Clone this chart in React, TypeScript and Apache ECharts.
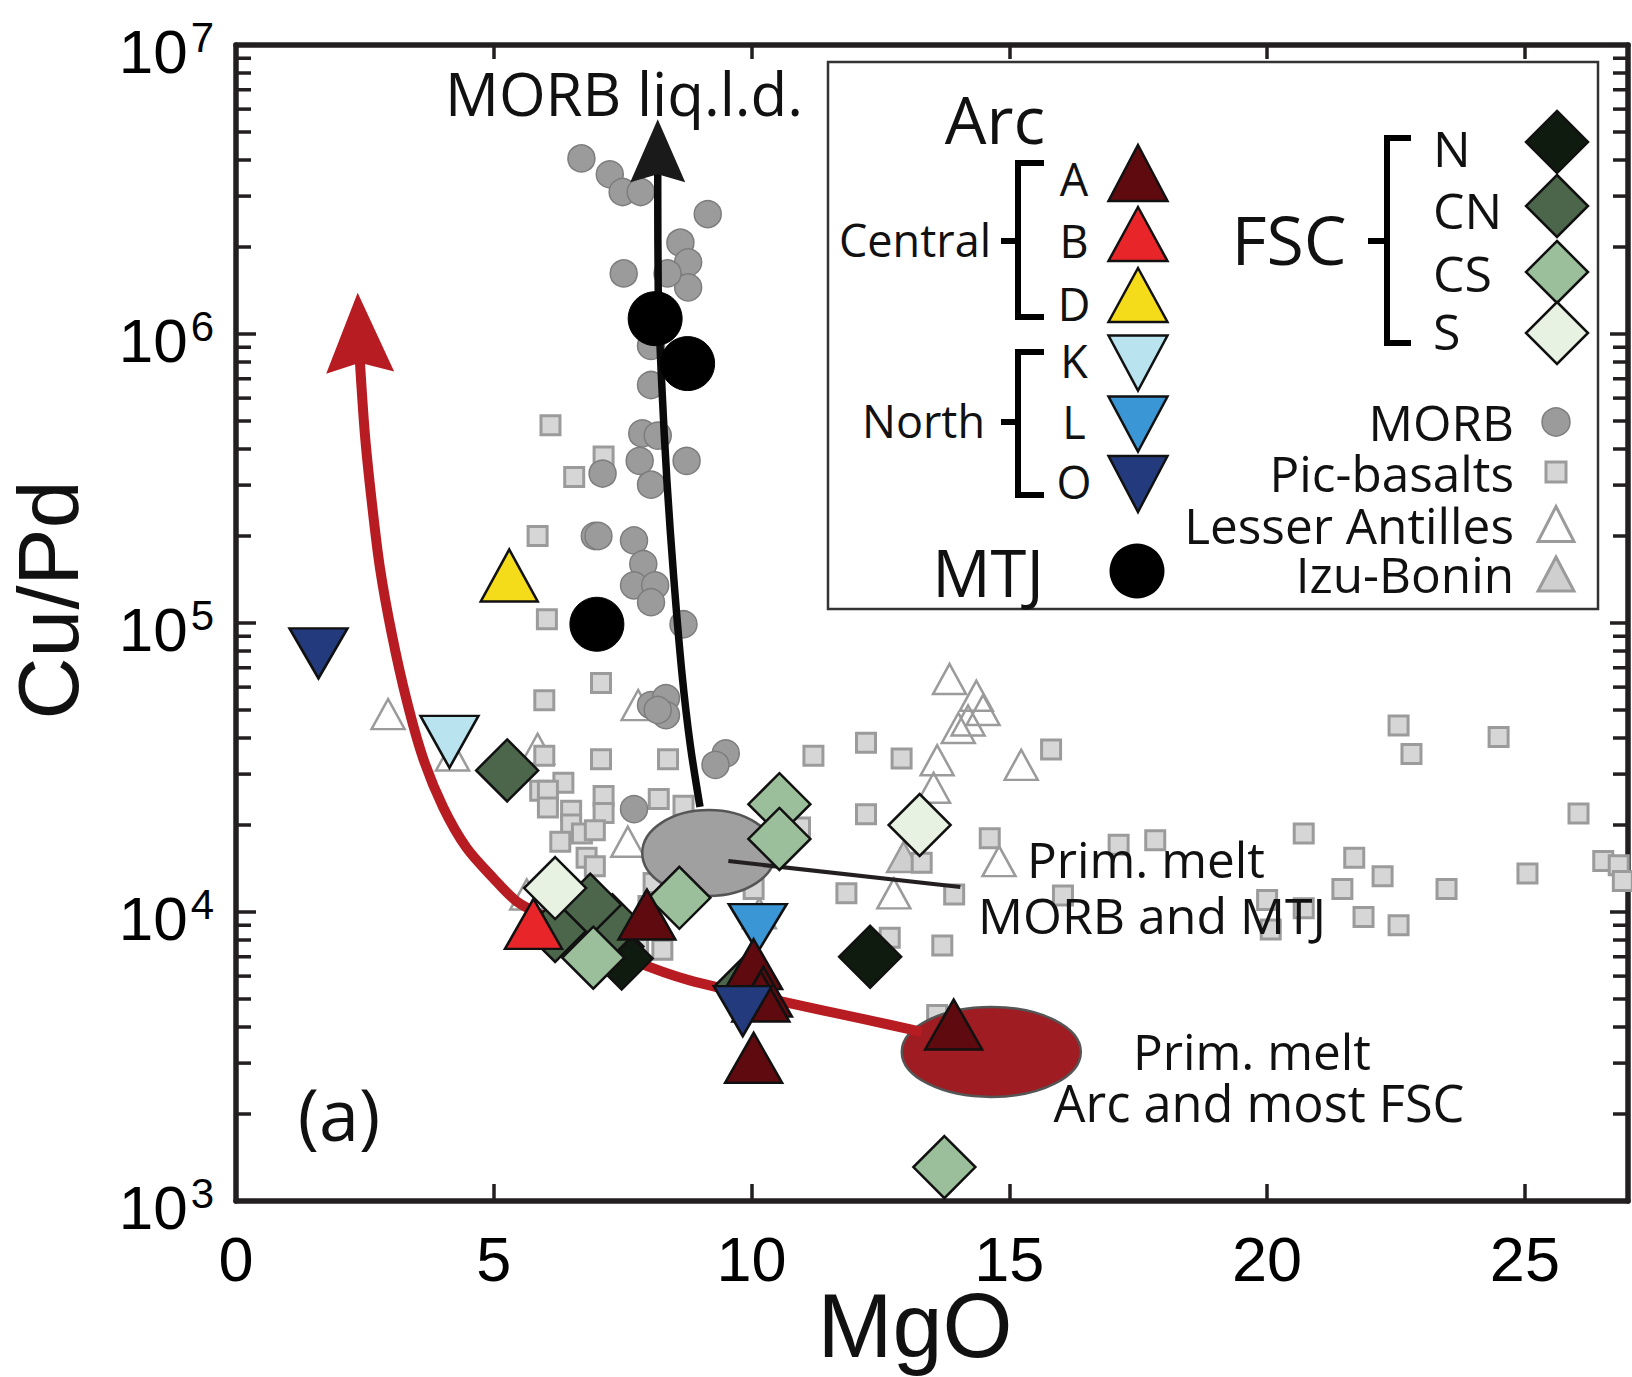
import React, { useEffect, useRef } from 'react';
import * as echarts from 'echarts';

// ---------- axis ticks ----------
const xTickStep = 5;
const xMin = 0;
const xMax = 27;
const yMin = 1e3;
const yMax = 1e7;
const minorTickMultipliers = [2, 3, 4, 5, 6, 7, 8, 9];
const minorTickDecades = [1e3, 1e4, 1e5, 1e6];

// ---------- data: [MgO, Cu/Pd] ----------
const morb: [number, number][] = [
  [6.7, 4.05e6], [7.25, 3.57e6], [7.5, 3.1e6], [7.85, 3.1e6], [9.15, 2.6e6], [8.62, 2.07e6],
  [8.77, 1.77e6], [8.77, 1.45e6], [7.52, 1.62e6], [8.37, 1.62e6], [8.05, 9.1e5], [8.05, 6.66e5],
  [7.88, 4.53e5], [8.18, 4.45e5], [7.83, 3.64e5], [8.74, 3.64e5], [8.05, 3.01e5], [7.11, 3.29e5],
  [6.96, 2.0e5], [7.03, 2.0e5], [7.72, 1.93e5], [7.9, 1.6e5], [7.72, 1.35e5], [8.13, 1.35e5],
  [8.05, 1.18e5], [8.68, 9.9e4], [8.05, 5.2e4], [8.34, 5.5e4], [8.34, 4.8e4], [8.18, 5.0e4],
  [9.5, 3.54e4], [9.3, 3.23e4], [7.72, 2.27e4],
];

const picBasalts: [number, number][] = [
  [6.1, 4.83e5], [7.13, 3.77e5], [6.56, 3.2e5], [5.85, 2.0e5], [6.03, 1.03e5],
  [7.08, 6.2e4], [5.98, 5.4e4], [5.98, 3.47e4], [7.08, 3.38e4], [8.38, 3.38e4], [6.35, 2.8e4],
  [5.9, 2.63e4], [6.05, 2.63e4], [6.05, 2.3e4], [7.13, 2.52e4], [7.13, 2.2e4], [8.2, 2.46e4],
  [8.68, 2.33e4], [6.5, 2.24e4], [6.5, 2.01e4], [6.71, 1.87e4], [6.96, 1.92e4], [6.29, 1.75e4],
  [6.8, 1.54e4], [6.96, 1.44e4], [8.1, 1.26e4], [8.27, 7.4e3], [7.8, 7.5e3], [8.0, 1.05e4],
  [10.04, 1.2e4], [10.94, 1.96e4], [11.2, 3.47e4], [12.22, 3.85e4], [12.91, 3.4e4],
  [12.22, 2.18e4], [13.3, 1.48e4], [14.62, 1.8e4], [11.84, 1.16e4], [13.93, 1.15e4],
  [12.68, 8.15e3], [13.7, 7.65e3], [13.6, 4.4e3], [15.81, 3.65e4], [16.04, 1.14e4],
  [17.12, 1.71e4], [17.83, 1.77e4], [20.71, 1.87e4], [20.0, 1.1e4], [20.71, 1.03e4],
  [20.07, 8.7e3], [21.46, 1.2e4], [21.69, 1.54e4], [22.24, 1.33e4], [21.87, 9.6e3],
  [22.55, 9.0e3], [23.48, 1.2e4], [22.55, 4.42e4], [22.8, 3.52e4], [24.49, 4.03e4],
  [26.04, 2.19e4], [25.05, 1.36e4], [26.52, 1.5e4], [26.82, 1.45e4], [26.9, 1.28e4],
];

const lesserAntilles: [number, number][] = [
  [2.95, 4.84e4], [4.2, 3.48e4], [5.85, 3.67e4], [7.6, 1.75e4], [5.64, 1.15e4], [7.8, 5.2e4],
  [13.84, 6.4e4], [14.36, 5.6e4], [14.49, 5.0e4], [14.01, 4.33e4], [14.2, 4.6e4],
  [13.6, 3.35e4], [13.53, 2.69e4], [15.23, 3.23e4], [14.8, 1.5e4], [12.76, 1.16e4],
];

const izuBonin: [number, number][] = [
  [12.95, 1.55e4], [10.15, 9.9e3],
];

const arcA: [number, number][] = [
  [7.97, 9.8e3], [10.04, 6.6e3], [10.23, 5.3e3], [10.18, 5.1e3], [10.04, 3.13e3], [13.92, 4.08e3],
];
const arcB: [number, number][] = [[5.77, 9.1e3]];
const arcD: [number, number][] = [[5.3, 1.46e5]];
const northK: [number, number][] = [[4.14, 3.88e4]];
const northL: [number, number][] = [[10.12, 8.8e3]];
const northO: [number, number][] = [[1.6, 7.85e4], [9.83, 4.54e3]];
const mtj: [number, number][] = [[8.13, 1.13e6], [8.76, 7.9e5], [7.0, 9.9e4]];

const fscN: [number, number][] = [[12.3, 7.0e3], [7.3, 7.6e3], [7.48, 6.9e3]];
const fscCN: [number, number][] = [[5.26, 3.09e4], [7.3, 9.0e3], [6.19, 8.6e3], [6.87, 1.06e4], [9.91, 5.6e3]];
const fscCS: [number, number][] = [[10.54, 2.36e4], [10.54, 1.79e4], [8.6, 1.12e4], [6.93, 6.95e3], [13.74, 1.31e3]];
const fscS: [number, number][] = [[6.19, 1.21e4], [13.26, 2.0e4]];

// trend curves
const morbLld: [number, number][] = [
  [8.18, 3.64e6], [8.19, 1.41e6], [8.26, 6.6e5], [8.36, 3.07e5], [8.49, 1.44e5],
  [8.65, 6.7e4], [8.81, 3.8e4], [9.0, 2.31e4],
];
const morbArrow = [[8.18, 5.54e6, 8.18, 3.64e6]];
const arcTrend: [number, number][] = [
  [2.4, 8.2e5], [2.5, 4.5e5], [2.63, 2.66e5], [2.79, 1.56e5], [3.02, 9.2e4], [3.31, 5.4e4],
  [3.63, 3.4e4], [4.02, 2.3e4], [4.47, 1.67e4], [4.99, 1.31e4], [5.44, 1.09e4], [6.0, 9.6e3],
  [6.7, 8.3e3], [7.7, 6.8e3], [8.8, 5.8e3], [10.6, 4.9e3], [12.2, 4.25e3], [13.3, 3.85e3],
];
const arcArrow = [[2.36, 1.39e6, 2.4, 8.2e5]];
const primMorbCenter = [[9.17, 1.6e4]];
const primArcCenter = [[14.65, 3.28e3]];
const primMorbLeader: [number, number][] = [[9.55, 1.5e4], [14.05, 1.22e4]];

// ---------- styles ----------
const AX = '#231f20';
const TICKFONT = 'Liberation Sans, Arial, sans-serif';
const TXTFONT = '"Open Sans", sans-serif';
const C = {
  A: '#5e0a0e', B: '#e8262a', D: '#f5dc1a', K: '#b8e3ef', L: '#3b96d6', O: '#233a7d',
  N: '#0f1b0f', CN: '#4c664c', CS: '#9bbf9b', S: '#e8f2e2', morb: '#9b9b9b', morbB: '#7d7d7d',
  sq: '#d6d6d6', gray: '#9b9b9b', izu: '#cfcfcf',
};

let zc = 2;
const sc = (data: any, symbol: string, size: any, color: string, border: string, bw: number, rotate = 0) => ({
  type: 'scatter', data, symbol, symbolSize: size, symbolRotate: rotate, silent: true, z: zc++,
  itemStyle: { color, borderColor: border, borderWidth: bw, opacity: 1 },
  emphasis: { disabled: true },
});

const ellipseSeries = (data: any, rx: number, ry: number, fill: string) => ({
  type: 'custom', data, silent: true, z: zc++,
  renderItem: (params: any, api: any) => {
    const p = api.coord([api.value(0), api.value(1)]);
    return { type: 'ellipse', shape: { cx: p[0], cy: p[1], rx, ry }, style: { fill, stroke: '#555', lineWidth: 2.5 } };
  },
});

const arrowSeries = (data: any, len: number, notch: number, width: number, color: string) => ({
  type: 'custom', data, silent: true, z: zc++, encode: { x: [0, 2], y: [1, 3] },
  renderItem: (params: any, api: any) => {
    const tip = api.coord([api.value(0), api.value(1)]);
    const back = api.coord([api.value(2), api.value(3)]);
    let dx = back[0] - tip[0];
    let dy = back[1] - tip[1];
    const d = Math.hypot(dx, dy) || 1;
    dx /= d; dy /= d;
    const nx = -dy, ny = dx;
    const pts = [
      tip,
      [tip[0] + dx * len + nx * width / 2, tip[1] + dy * len + ny * width / 2],
      [tip[0] + dx * notch, tip[1] + dy * notch],
      [tip[0] + dx * len - nx * width / 2, tip[1] + dy * len - ny * width / 2],
    ];
    return { type: 'polygon', shape: { points: pts }, style: { fill: color } };
  },
});

const lineSeries = (data: any, color: string, width: number, smooth: number | boolean) => ({
  type: 'line', data, symbol: 'none', smooth, silent: true, z: zc++,
  lineStyle: { color, width, cap: 'butt' },
});

// ---------- legend graphic helpers ----------
const tri = (cx: number, cy: number, w: number, h: number, fill: string, stroke: string, lw: number, down = false) => ({
  type: 'polygon', z: 101,
  shape: {
    points: down
      ? [[cx - w / 2, cy - h / 2], [cx + w / 2, cy - h / 2], [cx, cy + h / 2]]
      : [[cx, cy - h / 2], [cx + w / 2, cy + h / 2], [cx - w / 2, cy + h / 2]],
  },
  style: { fill, stroke, lineWidth: lw },
});
const dia = (cx: number, cy: number, s: number, fill: string) => ({
  type: 'polygon', z: 101,
  shape: { points: [[cx, cy - s / 2], [cx + s / 2, cy], [cx, cy + s / 2], [cx - s / 2, cy]] },
  style: { fill, stroke: '#111', lineWidth: 2.5 },
});
const txt = (x: number, y: number, text: string, fontSize: number, align = 'center', font = TXTFONT, extra: any = {}) => ({
  type: 'text', x, y, z: 102, ...extra,
  style: { text, fontSize, fontFamily: font, fill: '#111', align, verticalAlign: 'middle' },
});
const bracket = (x: number, y1: number, y2: number, xEnd: number, tickX: number, tickY: number) => [
  { type: 'polyline', z: 101, shape: { points: [[xEnd, y1], [x, y1], [x, y2], [xEnd, y2]] }, style: { stroke: '#000', lineWidth: 6, fill: 'none' } },
  { type: 'line', z: 101, shape: { x1: tickX, y1: tickY, x2: x, y2: tickY }, style: { stroke: '#000', lineWidth: 6 } },
];

const minorTicks: [number, number][] = [];
minorTickDecades.forEach((d) => minorTickMultipliers.forEach((m) => minorTicks.push([xMin, m * d])));

export default function App() {
  const ref = useRef<HTMLDivElement>(null);
  useEffect(() => {
    if (!ref.current) return;
    const chart = echarts.init(ref.current, undefined, { renderer: 'svg' });
    zc = 2;
    const series: any[] = [
      {
        type: 'custom', data: minorTicks, silent: true, z: 50, encode: { x: 0, y: 1 },
        renderItem: (params: any, api: any) => {
          const p = api.coord([api.value(0), api.value(1)]);
          const cs = params.coordSys;
          return {
            type: 'group', children: [
              { type: 'line', shape: { x1: cs.x, y1: p[1], x2: cs.x + 15, y2: p[1] }, style: { stroke: AX, lineWidth: 3.5 } },
              { type: 'line', shape: { x1: cs.x + cs.width, y1: p[1], x2: cs.x + cs.width - 15, y2: p[1] }, style: { stroke: AX, lineWidth: 3.5 } },
            ],
          };
        },
      },
      sc(lesserAntilles, 'triangle', [33, 30], 'rgba(255,255,255,0)', C.gray, 2.5),
      sc(izuBonin, 'triangle', [33, 30], C.izu, C.gray, 2.5),
      sc(picBasalts, 'rect', 19, C.sq, C.gray, 3),
      sc(morb, 'circle', 27, C.morb, C.morbB, 1.5),
      ellipseSeries(primMorbCenter, 66.5, 43, '#a0a0a0'),
      ellipseSeries(primArcCenter, 89.5, 45, '#9e1c22'),
      lineSeries(morbLld, '#0a0a0a', 7.5, 0.3),
      arrowSeries(morbArrow, 63, 55, 55, '#1a1a1a'),
      lineSeries(arcTrend, '#b71c22', 10, 0.3),
      arrowSeries(arcArrow, 80, 70, 68, '#b71c22'),
      lineSeries(primMorbLeader, AX, 4, false),
      sc(fscN, 'diamond', 62, C.N, '#111', 2.5),
      sc(fscCN, 'diamond', 62, C.CN, '#111', 2.5),
      sc(fscS, 'diamond', 62, C.S, '#111', 2.5),
      sc(fscCS, 'diamond', 62, C.CS, '#111', 2.5),
      sc(northK, 'triangle', [58, 52], C.K, '#111', 2.5, 180),
      sc(northL, 'triangle', [58, 48], C.L, '#111', 2.5, 180),
      sc(arcA, 'triangle', [57, 50], C.A, '#111', 2.5),
      sc(arcB, 'triangle', [57, 50], C.B, '#111', 2.5),
      sc(arcD, 'triangle', [57, 52], C.D, '#111', 2.5),
      sc(northO, 'triangle', [58, 50], C.O, '#111', 2.5, 180),
      sc(mtj, 'circle', 54, '#000', '#000', 1),
    ];

    const legend: any[] = [
      { type: 'rect', z: 100, shape: { x: 828, y: 62, width: 770, height: 547 }, style: { fill: '#fff', stroke: '#333', lineWidth: 2.5 } },
      txt(995, 118, 'Arc', 66),
      txt(991, 239, 'Central', 45, 'right'),
      ...bracket(1018, 163, 317, 1044, 1001, 241),
      txt(1074, 178, 'A', 45), txt(1074, 240, 'B', 45), txt(1074, 303, 'D', 45),
      tri(1138, 173, 59, 56, C.A, '#111', 2.5),
      tri(1138, 234, 59, 54, C.B, '#111', 2.5),
      tri(1138, 295, 59, 54, C.D, '#111', 2.5),
      txt(985, 420, 'North', 45, 'right'),
      ...bracket(1018, 352, 495, 1044, 1001, 422),
      txt(1074, 360, 'K', 45), txt(1074, 421, 'L', 45), txt(1074, 481, 'O', 45),
      tri(1138, 363, 59, 55, C.K, '#111', 2.5, true),
      tri(1138, 424, 59, 55, C.L, '#111', 2.5, true),
      tri(1138, 484, 59, 56, C.O, '#111', 2.5, true),
      txt(988, 572, 'MTJ', 65),
      { type: 'circle', z: 101, shape: { cx: 1137, cy: 571, r: 27.5 }, style: { fill: '#000' } },
      txt(1289, 238, 'FSC', 68),
      ...bracket(1387, 138, 343, 1411, 1368, 241),
      txt(1433, 148, 'N', 50, 'left'), txt(1433, 210, 'CN', 50, 'left'),
      txt(1433, 273, 'CS', 50, 'left'), txt(1433, 331, 'S', 50, 'left'),
      dia(1557, 142, 62, C.N), dia(1557, 206, 62, C.CN), dia(1557, 272, 62, C.CS), dia(1557, 333, 62, C.S),
      txt(1514, 422, 'MORB', 49.5, 'right'),
      { type: 'circle', z: 101, shape: { cx: 1556, cy: 422, r: 14 }, style: { fill: C.morb, stroke: C.morbB, lineWidth: 1.5 } },
      txt(1514, 473, 'Pic-basalts', 49.5, 'right'),
      { type: 'rect', z: 101, shape: { x: 1546, y: 462, width: 20, height: 20 }, style: { fill: C.sq, stroke: C.gray, lineWidth: 3 } },
      txt(1514, 525, 'Lesser Antilles', 49.5, 'right'),
      tri(1556, 524, 36, 35, 'rgba(255,255,255,0)', C.gray, 3),
      txt(1514, 574, 'Izu-Bonin', 49.5, 'right'),
      tri(1556, 574, 36, 34, C.izu, C.gray, 3),
    ];

    const annotations: any[] = [
      txt(624, 93, 'MORB liq.l.d.', 60),
      txt(1146, 859, 'Prim. melt', 49.5),
      txt(1152, 915, 'MORB and MTJ', 50),
      txt(1252, 1051, 'Prim. melt', 49.5),
      txt(1259, 1102, 'Arc and most FSC', 50.5),
      txt(339, 1113, '(a)', 72),
      txt(48, 600, 'Cu/Pd', 86, 'center', TICKFONT, { rotation: Math.PI / 2 }),
      txt(915, 1326, 'MgO', 90, 'center', TICKFONT),
    ];

    const xAxisBase = {
      type: 'value', min: xMin, max: xMax, interval: xTickStep, splitLine: { show: false },
      axisLine: { show: true, onZero: false, lineStyle: { color: AX, width: 5.5 } },
    };
    const yAxisBase = {
      type: 'log', logBase: 10, min: yMin, max: yMax, splitLine: { show: false },
      axisLine: { show: true, onZero: false, lineStyle: { color: AX, width: 5.5 } },
    };

    chart.setOption({
      animation: false,
      backgroundColor: '#fff',
      grid: { left: 236, right: 4, top: 45, bottom: 176, containLabel: false, outerBoundsMode: 'none' },
      xAxis: [
        {
          ...xAxisBase, position: 'bottom',
          axisTick: { show: true, inside: true, length: 17, lineStyle: { color: AX, width: 3.5 } },
          axisLabel: {
            show: true, margin: 26, fontSize: 63, fontFamily: TICKFONT, color: '#000',
            showMinLabel: true, showMaxLabel: true,
            formatter: (v: number) => (v % xTickStep === 0 ? String(v) : ''),
          },
        },
        {
          ...xAxisBase, position: 'top',
          axisTick: { show: true, inside: true, length: 14, lineStyle: { color: AX, width: 3.5 } },
          axisLabel: { show: false },
        },
      ],
      yAxis: [
        {
          ...yAxisBase, position: 'left',
          axisTick: { show: true, inside: true, length: 20, lineStyle: { color: AX, width: 3.5 } },
          axisLabel: {
            show: true, margin: 22, showMinLabel: true, showMaxLabel: true,
            padding: [13, 0, 0, 0],
            formatter: (v: number) => `{b|10}{s|${Math.round(Math.log10(v))}}`,
            rich: {
              b: { fontSize: 62, fontFamily: TICKFONT, color: '#000', lineHeight: 70, verticalAlign: 'middle' },
              s: { fontSize: 42, fontFamily: TICKFONT, color: '#000', lineHeight: 24, verticalAlign: 'top', padding: [0, 0, 0, 3] },
            },
          },
        },
        {
          ...yAxisBase, position: 'right',
          axisTick: { show: true, inside: true, length: 18, lineStyle: { color: AX, width: 3.5 } },
          axisLabel: { show: false },
        },
      ],
      series,
      graphic: { elements: [...legend, ...annotations] },
    });
    return () => chart.dispose();
  }, []);
  return <div ref={ref} style={{ position: 'absolute', left: 0, top: 0, width: 1632, height: 1377 }} />;
}
